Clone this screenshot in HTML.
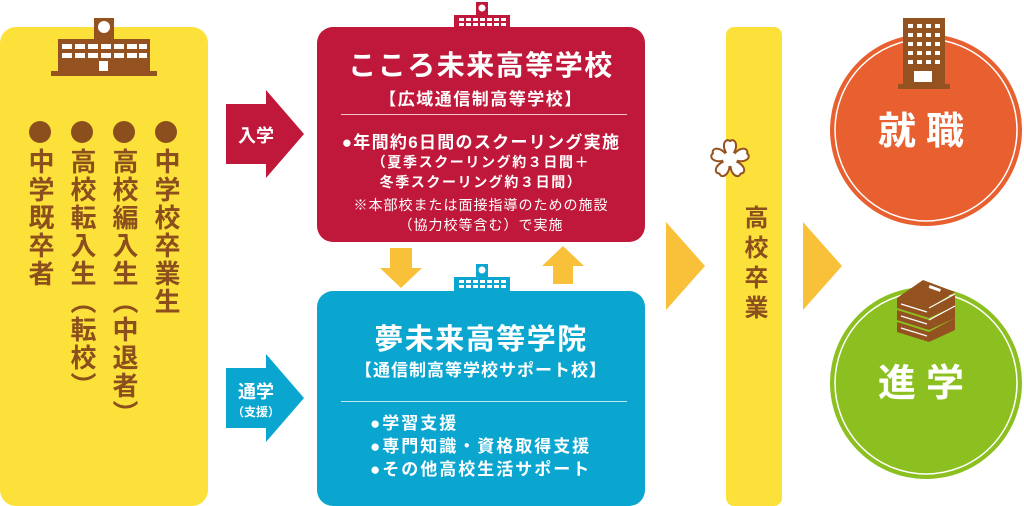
<!DOCTYPE html>
<html><head><meta charset="utf-8"><style>
body{margin:0;width:1024px;height:506px;background:#fff;position:relative;overflow:hidden;font-family:"Liberation Sans","Noto Sans CJK JP",sans-serif;font-weight:bold}
.a{position:absolute}
.col{position:absolute;writing-mode:vertical-rl;font-size:26px;color:#8a4f1c;line-height:1;letter-spacing:2px;top:148px}
.dot{position:absolute;width:22px;height:22px;border-radius:50%;background:#8a4f1c;top:121px}
.w{color:#fff;text-align:center;position:absolute;white-space:nowrap}
</style></head><body>
<div class="a" style="left:0;top:27px;width:208px;height:479px;background:#fde13b;border-radius:16px"></div>
<svg class="a" style="left:50px;top:16px" width="110" height="62"><rect x="44" y="2" width="20" height="22" fill="#93521f"/><circle cx="54" cy="11" r="6" fill="#fff"/><rect x="8" y="23" width="92" height="34" fill="#93521f"/><rect x="1" y="55" width="106" height="5" fill="#93521f"/>
<g fill="#fff"><rect x="12" y="28" width="10" height="5"/><rect x="25" y="28" width="10" height="5"/><rect x="38" y="28" width="10" height="5"/><rect x="51" y="28" width="10" height="5"/><rect x="64" y="28" width="10" height="5"/><rect x="77" y="28" width="10" height="5"/><rect x="89" y="28" width="8" height="5"/><rect x="12" y="37" width="10" height="5"/><rect x="25" y="37" width="10" height="5"/><rect x="38" y="37" width="10" height="5"/><rect x="51" y="37" width="10" height="5"/><rect x="64" y="37" width="10" height="5"/><rect x="77" y="37" width="10" height="5"/><rect x="89" y="37" width="8" height="5"/><rect x="49" y="45" width="9" height="10"/></g></svg>
<div class="dot" style="left:155px"></div><div class="dot" style="left:113px"></div><div class="dot" style="left:71px"></div><div class="dot" style="left:29px"></div>
<div class="col" style="left:153px">中学校卒業生</div>
<div class="col" style="left:111px">高校編入生（中退者）</div>
<div class="col" style="left:69px">高校転入生（転校）</div>
<div class="col" style="left:27px">中学既卒者</div>
<svg class="a" style="left:226px;top:90px" width="80" height="90"><polygon points="0,14 40,14 40,0 78,44 40,88 40,74 0,74" fill="#c0183a"/><text x="30" y="52" font-size="18" fill="#fff" text-anchor="middle" font-weight="bold" font-family="Noto Sans CJK JP">入学</text></svg>
<svg class="a" style="left:226px;top:354px" width="80" height="90"><polygon points="0,14 40,14 40,0 78,44 40,88 40,74 0,74" fill="#0aa6d0"/><text x="30" y="44" font-size="18" fill="#fff" text-anchor="middle" font-weight="bold" font-family="Noto Sans CJK JP">通学</text><text x="30" y="62" font-size="12" fill="#fff" text-anchor="middle" font-family="Noto Sans CJK JP">（支援）</text></svg>
<svg class="a" style="left:450px;top:0" width="64" height="30"><rect x="26" y="2" width="12" height="14" fill="#c0183a"/><circle cx="32" cy="8" r="3.5" fill="#fff"/><rect x="4" y="15" width="56" height="15" fill="#c0183a"/><g fill="#fff"><rect x="9" y="18" width="5" height="3"/><rect x="16" y="18" width="5" height="3"/><rect x="23" y="18" width="5" height="3"/><rect x="30" y="18" width="5" height="3"/><rect x="37" y="18" width="5" height="3"/><rect x="44" y="18" width="5" height="3"/><rect x="51" y="18" width="5" height="3"/><rect x="9" y="23" width="5" height="3"/><rect x="16" y="23" width="5" height="3"/><rect x="23" y="23" width="5" height="3"/><rect x="30" y="23" width="5" height="3"/><rect x="37" y="23" width="5" height="3"/><rect x="44" y="23" width="5" height="3"/><rect x="51" y="23" width="5" height="3"/></g></svg>
<div class="a" style="left:317px;top:27px;width:328px;height:215px;background:#c0183a;border-radius:16px"></div>
<div class="w" style="left:317px;width:328px;top:44px;font-size:28px;letter-spacing:1.5px">こころ未来高等学校</div>
<div class="w" style="left:317px;width:328px;top:85px;font-size:17px;letter-spacing:1.5px">【広域通信制高等学校】</div>
<div class="a" style="left:341px;top:114px;width:286px;height:1px;background:#f3c4cd"></div>
<div class="w" style="left:317px;width:328px;top:128px;font-size:17px;letter-spacing:1.3px">●年間約6日間のスクーリング実施</div>
<div class="w" style="left:317px;width:328px;top:152px;font-size:14px;line-height:20px;letter-spacing:1.6px">（夏季スクーリング約３日間＋<br>冬季スクーリング約３日間）</div>
<div class="w" style="left:317px;width:328px;top:195px;font-size:14px;line-height:20px;font-weight:normal;letter-spacing:1px">※本部校または面接指導のための施設<br>（協力校等含む）で実施</div>
<svg class="a" style="left:380px;top:246px" width="210" height="44"><polygon points="10,2 32,2 32,22 42,22 21,42 0,22 10,22" fill="#f9c13a"/><polygon points="173,38 193,38 193,20 204,20 183,0 162,20 173,20" fill="#f9c13a"/></svg>
<svg class="a" style="left:450px;top:262px" width="64" height="30"><rect x="26" y="2" width="12" height="14" fill="#0aa6d0"/><circle cx="32" cy="8" r="3.5" fill="#fff"/><rect x="4" y="15" width="56" height="15" fill="#0aa6d0"/><g fill="#fff"><rect x="9" y="18" width="5" height="3"/><rect x="16" y="18" width="5" height="3"/><rect x="23" y="18" width="5" height="3"/><rect x="30" y="18" width="5" height="3"/><rect x="37" y="18" width="5" height="3"/><rect x="44" y="18" width="5" height="3"/><rect x="51" y="18" width="5" height="3"/><rect x="9" y="23" width="5" height="3"/><rect x="16" y="23" width="5" height="3"/><rect x="23" y="23" width="5" height="3"/><rect x="30" y="23" width="5" height="3"/><rect x="37" y="23" width="5" height="3"/><rect x="44" y="23" width="5" height="3"/><rect x="51" y="23" width="5" height="3"/></g></svg>
<div class="a" style="left:317px;top:291px;width:328px;height:215px;background:#0aa6d0;border-radius:16px"></div>
<div class="w" style="left:317px;width:328px;top:316px;font-size:29px;letter-spacing:1.5px">夢未来高等学院</div>
<div class="w" style="left:317px;width:328px;top:356px;font-size:17px;letter-spacing:1px">【通信制高等学校サポート校】</div>
<div class="a" style="left:341px;top:401px;width:286px;height:1px;background:#bfe7f3"></div>
<div class="w" style="left:370px;top:412px;font-size:17px;line-height:23px;text-align:left;letter-spacing:2px">●学習支援<br>●専門知識・資格取得支援<br>●その他高校生活サポート</div>
<svg class="a" style="left:666px;top:222px" width="180" height="90"><polygon points="0,0 39,44 0,88" fill="#f9c13a"/><polygon points="137,0 176,44 137,88" fill="#f9c13a"/></svg>
<div class="a" style="left:726px;top:27px;width:56px;height:479px;background:#fde13b;border-radius:8px"></div>
<div class="a" style="left:741px;top:205px;writing-mode:vertical-rl;font-size:24px;color:#8a4f1c;line-height:1;letter-spacing:6px">高校卒業</div>
<svg class="a" style="left:705px;top:134px" width="50" height="50"><g transform="translate(25,25)" fill="#fff" stroke="#93521f" stroke-width="2"><path d="M0,-2 C-10,-10 -6,-22 0,-18 C6,-22 10,-10 0,-2Z" transform="rotate(0)"/><path d="M0,-2 C-10,-10 -6,-22 0,-18 C6,-22 10,-10 0,-2Z" transform="rotate(72)"/><path d="M0,-2 C-10,-10 -6,-22 0,-18 C6,-22 10,-10 0,-2Z" transform="rotate(144)"/><path d="M0,-2 C-10,-10 -6,-22 0,-18 C6,-22 10,-10 0,-2Z" transform="rotate(216)"/><path d="M0,-2 C-10,-10 -6,-22 0,-18 C6,-22 10,-10 0,-2Z" transform="rotate(288)"/><circle r="7" stroke="none"/></g></svg>
<svg class="a" style="left:826px;top:30px" width="200" height="476">
<circle cx="100" cy="100" r="96" fill="#e8602f"/><circle cx="100" cy="100" r="91" fill="none" stroke="#fff" stroke-width="1.5"/>
<circle cx="100" cy="353" r="96" fill="#8cc021"/><circle cx="100" cy="353" r="91" fill="none" stroke="#fff" stroke-width="1.5"/>
<text x="100" y="114" font-size="38" fill="#fff" text-anchor="middle" font-weight="bold" font-family="Noto Sans CJK JP" letter-spacing="10">就職</text>
<text x="100" y="366" font-size="38" fill="#fff" text-anchor="middle" font-weight="bold" font-family="Noto Sans CJK JP" letter-spacing="10">進学</text>
</svg>
<svg class="a" style="left:896px;top:16px" width="56" height="74"><rect x="7" y="2" width="42" height="70" fill="#93521f"/><rect x="2" y="68" width="52" height="5" fill="#93521f"/><g fill="#fff"><rect x="12" y="8" width="5" height="4"/><rect x="21" y="8" width="5" height="4"/><rect x="30" y="8" width="5" height="4"/><rect x="39" y="8" width="5" height="4"/><rect x="12" y="17" width="5" height="4"/><rect x="21" y="17" width="5" height="4"/><rect x="30" y="17" width="5" height="4"/><rect x="39" y="17" width="5" height="4"/><rect x="12" y="26" width="5" height="4"/><rect x="21" y="26" width="5" height="4"/><rect x="30" y="26" width="5" height="4"/><rect x="39" y="26" width="5" height="4"/><rect x="12" y="35" width="5" height="4"/><rect x="21" y="35" width="5" height="4"/><rect x="30" y="35" width="5" height="4"/><rect x="39" y="35" width="5" height="4"/><rect x="12" y="44" width="5" height="4"/><rect x="21" y="44" width="5" height="4"/><rect x="30" y="44" width="5" height="4"/><rect x="39" y="44" width="5" height="4"/><rect x="18" y="55" width="18" height="11"/></g></svg>
<svg class="a" style="left:893px;top:278px" width="66" height="66"><g fill="#93521f"><polygon points="4,44 36,54 62,40 62,52 36,64 4,54"/><polygon points="4,32 36,42 62,28 62,40 36,52 4,42"/><polygon points="4,20 36,30 62,16 62,28 36,40 4,30"/><polygon points="4,20 30,2 62,14 36,30"/></g><g stroke="#fff" stroke-width="1.2" fill="none"><path d="M8,26 L34,34 M8,38 L34,46 M8,50 L34,58"/><path d="M36,42 L62,28 M36,30 L62,16"/></g><rect x="36" y="9" width="12" height="3" fill="#fff" transform="rotate(20 42 10)"/></svg>
</body></html>
